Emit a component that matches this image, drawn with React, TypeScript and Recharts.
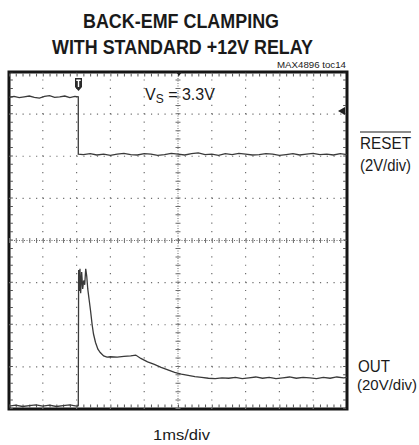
import React from 'react';
import { LineChart, Line, XAxis, YAxis, ReferenceLine, ReferenceArea } from 'recharts';

// time in ms (1ms/div), amplitude in screen divisions (0 = bottom edge, 8 = top edge)
const xGridLines = [1, 2, 3, 4, 6, 7, 8, 9];
const yGridLines = [1, 2, 3, 5, 6, 7];
const xCenter = 5;
const yCenter = 4;

// RESET trace (2V/div)
const resetTrace: [number, number][] = [
    [0, 7.40], [0.15, 7.42], [0.3, 7.39], [0.45, 7.41], [0.6, 7.43], [0.75, 7.40], [0.9, 7.38],
    [1.05, 7.42], [1.2, 7.44], [1.35, 7.40], [1.5, 7.41], [1.65, 7.43], [1.8, 7.39], [1.95, 7.42],
    [2.05, 7.41], [2.05, 6.05], [2.2, 6.04], [2.4, 6.06], [2.6, 6.03], [2.8, 6.05], [3.0, 6.02],
    [3.2, 6.05], [3.4, 6.07], [3.6, 6.04], [3.8, 6.03], [4.0, 6.06], [4.2, 6.05], [4.4, 6.02],
    [4.6, 6.04], [4.8, 6.07], [5.0, 6.05], [5.2, 6.03], [5.4, 6.06], [5.6, 6.08], [5.8, 6.04],
    [6.0, 6.05], [6.2, 6.02], [6.4, 6.06], [6.6, 6.04], [6.8, 6.07], [7.0, 6.05], [7.2, 6.03],
    [7.4, 6.04], [7.6, 6.06], [7.8, 6.05], [8.0, 6.02], [8.2, 6.04], [8.4, 6.06], [8.6, 6.03],
    [8.8, 6.05], [9.0, 6.07], [9.2, 6.04], [9.4, 6.05], [9.6, 6.03], [9.8, 6.06], [10, 6.04],
];

// OUT trace (20V/div)
const outTrace: [number, number][] = [
    [0, 0.07], [0.2, 0.09], [0.4, 0.06], [0.6, 0.08], [0.8, 0.10], [1.0, 0.07], [1.2, 0.09],
    [1.4, 0.06], [1.6, 0.08], [1.8, 0.10], [2.0, 0.07], [2.05, 0.08],
    [2.06, 3.30], [2.08, 2.80], [2.10, 3.33], [2.12, 2.75], [2.15, 3.25], [2.18, 2.85],
    [2.21, 3.05], [2.24, 2.95], [2.27, 3.33], [2.30, 3.15], [2.33, 2.85], [2.37, 2.60],
    [2.41, 2.35], [2.46, 2.00], [2.50, 1.78], [2.56, 1.58], [2.63, 1.42], [2.70, 1.34],
    [2.80, 1.26], [2.90, 1.23], [3.0, 1.24], [3.2, 1.23], [3.4, 1.25], [3.6, 1.26], [3.75, 1.28],
    [3.9, 1.20], [4.1, 1.12], [4.3, 1.06], [4.5, 0.99], [4.7, 0.93], [4.9, 0.87], [5.1, 0.83],
    [5.3, 0.80], [5.5, 0.77], [5.7, 0.75], [5.9, 0.73], [6.1, 0.72], [6.3, 0.74], [6.5, 0.73],
    [6.7, 0.75], [6.9, 0.72], [7.1, 0.74], [7.3, 0.76], [7.5, 0.73], [7.7, 0.75], [7.9, 0.72],
    [8.1, 0.74], [8.3, 0.76], [8.5, 0.73], [8.7, 0.75], [8.9, 0.74], [9.1, 0.72], [9.3, 0.75],
    [9.5, 0.73], [9.7, 0.76], [9.9, 0.74], [10, 0.75],
];

const resetData = resetTrace.map(([t, v]) => ({ t, v }));
const outData = outTrace.map(([t, v]) => ({ t, v }));

const W = 419;
const H = 445;
const margin = { top: 72, right: 72, bottom: 36, left: 9 };

const dotColor = '#6e6e6e';
const traceColor = '#3a3a3a';
const font = '"Liberation Sans", Arial, sans-serif';

const App: React.FC = () => {
    return (
        <div style={{ position: 'absolute', left: 0, top: 0, width: W, height: H, background: '#fff' }}>
            <LineChart width={W} height={H} margin={margin}>
                <XAxis type="number" dataKey="t" domain={[0, 10]} hide allowDataOverflow />
                <YAxis type="number" domain={[0, 8]} hide allowDataOverflow />

                {xGridLines.map(x => (
                    <ReferenceLine key={'x' + x} x={x} stroke={dotColor} strokeWidth={1.2} strokeDasharray="1.2 7.22" />
                ))}
                {yGridLines.map(y => (
                    <ReferenceLine key={'y' + y} y={y} stroke={dotColor} strokeWidth={1.2} strokeDasharray="1.2 5.56" />
                ))}

                {/* center axes with minor ticks */}
                <ReferenceLine x={xCenter} stroke={dotColor} strokeWidth={1} strokeDasharray="1 1.5" />
                <ReferenceLine x={xCenter} stroke={dotColor} strokeWidth={5} strokeDasharray="1 7.42" />
                <ReferenceLine y={yCenter} stroke={dotColor} strokeWidth={1} strokeDasharray="1 1.5" />
                <ReferenceLine y={yCenter} stroke={dotColor} strokeWidth={5} strokeDasharray="1 5.76" />

                {/* minor ticks inside the frame edges */}
                <ReferenceLine x={0.07} stroke="#555" strokeWidth={3} strokeDasharray="1 7.42" />
                <ReferenceLine x={9.93} stroke="#555" strokeWidth={3} strokeDasharray="1 7.42" />
                <ReferenceLine y={7.93} stroke="#555" strokeWidth={3} strokeDasharray="1 5.76" />
                <ReferenceLine y={0.07} stroke="#555" strokeWidth={3} strokeDasharray="1 5.76" />

                <Line data={resetData} dataKey="v" type="linear" stroke={traceColor} strokeWidth={1.3}
                    dot={false} isAnimationActive={false} />
                <Line data={outData} dataKey="v" type="linear" stroke={traceColor} strokeWidth={1.3}
                    dot={false} isAnimationActive={false} />

                <ReferenceArea x1={0} x2={10} y1={0} y2={8} fill="none" fillOpacity={0}
                    stroke="#151515" strokeWidth={3} />
            </LineChart>

            <svg width={W} height={H} style={{ position: 'absolute', left: 0, top: 0, pointerEvents: 'none' }}>
                <g fontFamily={font} fill="#1a1a1a">
                    <text x={83} y={28} fontSize={20} fontWeight="bold" textLength={196} lengthAdjust="spacingAndGlyphs">BACK-EMF CLAMPING</text>
                    <text x={52} y={54} fontSize={20} fontWeight="bold" textLength={261} lengthAdjust="spacingAndGlyphs">WITH STANDARD +12V RELAY</text>
                    <text x={277} y={68} fontSize={9} textLength={69} lengthAdjust="spacingAndGlyphs">MAX4896 toc14</text>

                    <text x={145} y={100} fontSize={16}>
                        V<tspan fontSize={12} dy={3}>S</tspan><tspan dy={-3}> = 3.3V</tspan>
                    </text>

                    <text x={360} y={149} fontSize={17} textLength={51} lengthAdjust="spacingAndGlyphs">RESET</text>
                    <line x1={360} y1={132} x2={411} y2={132} stroke="#1a1a1a" strokeWidth={1.2} />
                    <text x={360} y={171} fontSize={16} textLength={51} lengthAdjust="spacingAndGlyphs">(2V/div)</text>

                    <text x={358} y={372} fontSize={16} textLength={32} lengthAdjust="spacingAndGlyphs">OUT</text>
                    <text x={357} y={390} fontSize={15} textLength={60} lengthAdjust="spacingAndGlyphs">(20V/div)</text>

                    <text x={153} y={440} fontSize={15} textLength={57} lengthAdjust="spacingAndGlyphs">1ms/div</text>
                </g>

                {/* trigger marker */}
                <path d="M75,78 H82 V87 L78.5,91 L75,87 Z" fill="#2a2a2a" />
                <path d="M76.3,79.5 H80.7 V81 H79.2 V87 H77.8 V81 H76.3 Z" fill="#fff" />
                {/* trigger position marker at top center */}
                <path d="M176,72 H182 L179,76 Z" fill="#222" />
                {/* trigger level arrow on right edge */}
                <path d="M338,111 L345,107 V115 Z" fill="#222" />
            </svg>
        </div>
    );
};

export default App;
